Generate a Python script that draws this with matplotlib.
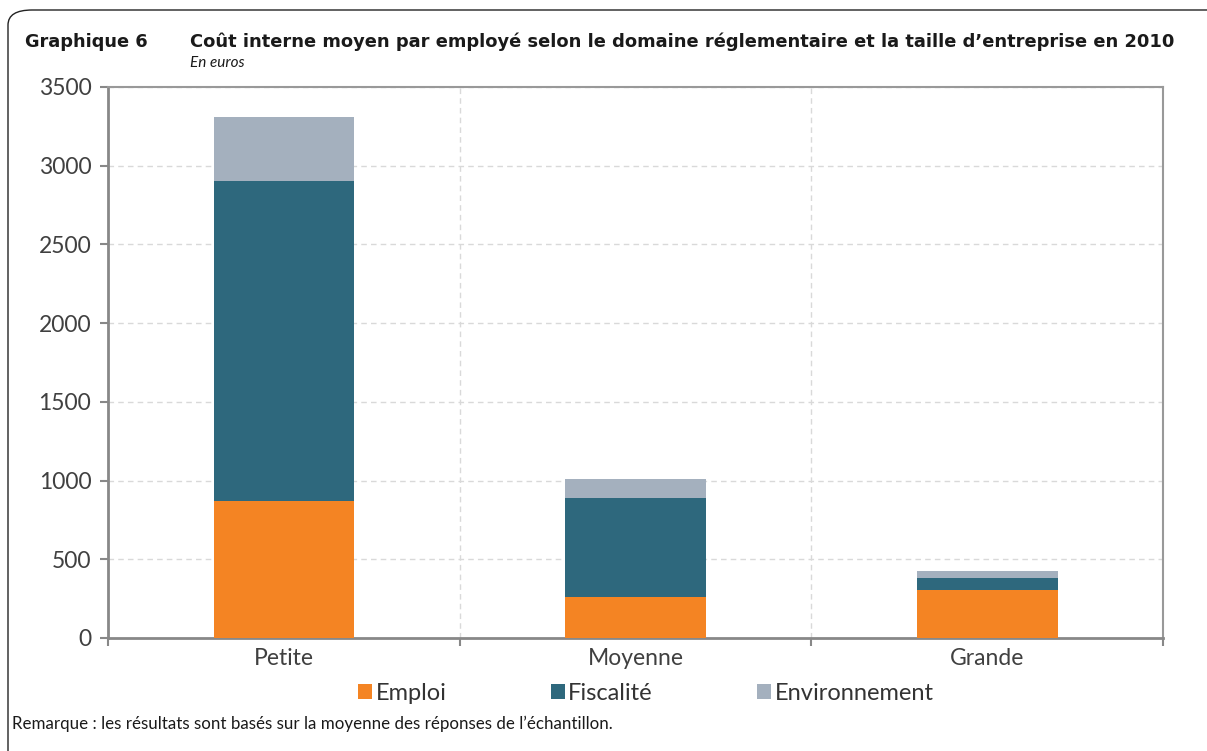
import matplotlib
matplotlib.use("Agg")
import matplotlib.pyplot as plt
from matplotlib.patches import FancyBboxPatch
import numpy as np

categories = ["Petite", "Moyenne", "Grande"]
emploi = [870, 260, 305]
fiscalite = [2030, 630, 76]
environnement = [410, 120, 45]
yticks = [0, 500, 1000, 1500, 2000, 2500, 3000, 3500]

colors = {"Emploi": "#F48423", "Fiscalité": "#2E687D", "Environnement": "#A4B0BE"}

narrow = ["Lato", "DejaVu Sans"]

fig = plt.figure(figsize=(12.07, 7.51), dpi=100)
ax = fig.add_axes([108 / 1207, 1 - 638 / 751, (1163 - 108) / 1207, (638 - 87) / 751])

x = np.arange(len(categories))
w = 0.4
ax.bar(x, emploi, w, color=colors["Emploi"], label="Emploi", zorder=3)
ax.bar(x, fiscalite, w, bottom=emploi, color=colors["Fiscalité"], label="Fiscalité", zorder=3)
bottom2 = [a + b for a, b in zip(emploi, fiscalite)]
ax.bar(x, environnement, w, bottom=bottom2, color=colors["Environnement"],
       label="Environnement", zorder=3)

ax.set_xlim(-0.5, 2.5)
ax.set_ylim(0, 3500)
ax.set_yticks(yticks)
ax.set_xticks(x)
ax.set_xticklabels(categories)
ax.set_xticks([-0.5, 0.5, 1.5, 2.5], minor=True)
ax.tick_params(axis="x", which="major", length=0, labelsize=16.5, colors="#404040", pad=7)
ax.tick_params(axis="x", which="minor", length=6, width=1.5, color="#888888")
ax.tick_params(axis="y", length=6, width=1.5, color="#888888", labelsize=16.5,
               labelcolor="#404040", pad=6)
for lab in ax.get_xticklabels() + ax.get_yticklabels():
    lab.set_family(narrow)

ax.grid(axis="y", linestyle=(0, (4, 3)), color="#d9d9d9", linewidth=1, zorder=0)
for xv in [0.5, 1.5]:
    ax.axvline(xv, linestyle=(0, (4, 3)), color="#d9d9d9", linewidth=1, zorder=0)

for s in ["left", "bottom"]:
    ax.spines[s].set_color("#888888")
    ax.spines[s].set_linewidth(2)
for s in ["top", "right"]:
    ax.spines[s].set_color("#999999")
    ax.spines[s].set_linewidth(1.5)

fig.legend(loc="center", bbox_to_anchor=(0.535, 1 - 693 / 751), ncol=3, frameon=False,
           prop={"family": narrow, "size": 17}, handlelength=0.6, handleheight=0.6,
           handletextpad=0.15, columnspacing=4.4, labelcolor="#333333")

fig.text(25 / 1207, 1 - 42 / 751, "Graphique 6", fontsize=12.8, fontweight="bold",
         va="center", color="#1a1a1a")
fig.text(190 / 1207, 1 - 42 / 751,
         "Coût interne moyen par employé selon le domaine réglementaire et la taille d\u2019entreprise en 2010",
         fontsize=12.85, fontweight="bold", va="center", color="#1a1a1a")
fig.text(190 / 1207, 1 - 63 / 751, "En euros", fontsize=11, style="italic", va="center",
         color="#1a1a1a", family=narrow)
fig.text(12 / 1207, 1 - 724 / 751,
         "Remarque : les résultats sont basés sur la moyenne des réponses de l\u2019échantillon.",
         fontsize=12.2, va="center", color="#1a1a1a", family=narrow)

frame = FancyBboxPatch((8 / 1207, -0.05), 1.1, 1 - 10 / 751 + 0.05,
                       boxstyle="round,pad=0,rounding_size=0.02",
                       transform=fig.transFigure, fill=False, edgecolor="#222222",
                       linewidth=1, clip_on=False)
fig.patches.append(frame)

fig.savefig("out.png", dpi=100)
